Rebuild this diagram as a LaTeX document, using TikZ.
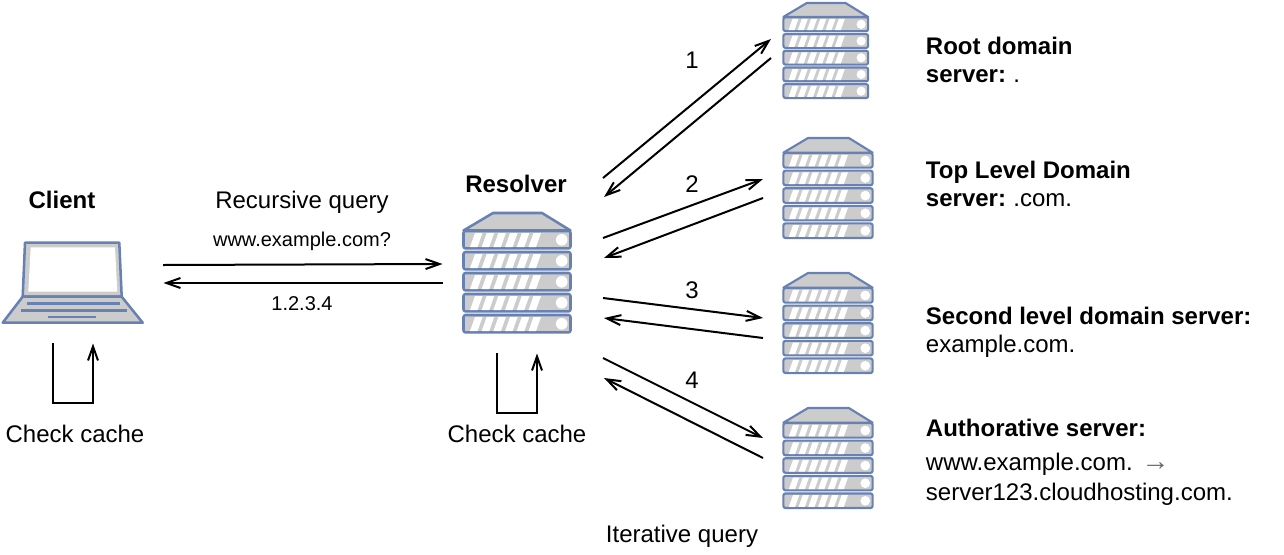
\documentclass[tikz,border=0pt]{standalone}
\usepackage{fontspec}
\setmainfont{Liberation Sans}
\usetikzlibrary{arrows.meta}
\definecolor{iconline}{HTML}{6881B3}
\definecolor{iconfill}{HTML}{CCCCCC}
\tikzset{
  conn/.style={line width=1.5pt,black,-{Straight Barb[length=10.5pt,width=7.5pt,line width=1.5pt]}},
  big/.style={font=\fontsize{18}{18}\selectfont,inner sep=0pt},
  small/.style={font=\fontsize{15}{15}\selectfont,inner sep=0pt},
  lab/.style={big,anchor=base west},
  mid/.style={big,anchor=base},
  midsmall/.style={small,anchor=base},
  iconshape/.style={draw=iconline,fill=iconfill,line width=1.9pt,line join=round},
  slash/.style={fill=white,draw=none},
  hole/.style={fill=white,draw=none},
  keyline/.style={draw=iconline,line width=1.9pt}
}
\newcommand{\serverstack}[5]{% x, y, width, height, stroke width
  \begin{scope}[shift={(#1,#2)},xscale=#3/108,yscale=#4/120]
    \draw[iconshape,line width=#5] (0.5,17.5) -- (30,0) -- (79,0) -- (107.5,17.5) -- cycle;
    \foreach \r in {0,1,2,3,4}{
      \begin{scope}[yshift=-\r*15.75pt]
        \draw[iconshape,line width=#5,rounded corners=1.5pt] (0.5,18) rectangle (107.5,35.4);
        \foreach \s in {0,...,5}{
          \fill[slash] ({12+\s*11.7},20) -- ({19.5+\s*11.7},20) -- ({14.5+\s*11.7},34) -- ({7+\s*11.7},34) -- cycle;
        }
        \fill[hole] (98.7,26.8) circle [radius=5.8];
      \end{scope}
    }
  \end{scope}
}
\begin{document}
\begin{tikzpicture}[x=0.75pt,y=-0.75pt]
\useasboundingbox (0,0) rectangle (1284,554);
\fill[white] (0,0) rectangle (1284,554);

% laptop
\draw[iconshape] (25,242.7) -- (119.3,242.7) -- (121.7,296.7) -- (22.7,296.7) -- cycle;
\fill[white] (30.7,247.3) -- (115,247.3) -- (117.3,291.7) -- (28.3,291.7) -- cycle;
\draw[iconshape] (22.7,296.7) -- (121.7,296.7) -- (142.7,322.7) -- (2.7,322.7) -- cycle;
\draw[keyline] (26.7,303.7) -- (120,303.7);
\draw[keyline] (20.7,310.3) -- (126.7,310.3);
\draw[keyline] (47.7,317) -- (95.7,317);

% servers
\serverstack{463}{213}{108}{120}{1.9pt}
\serverstack{783}{3}{85.5}{95.5}{1.6pt}
\serverstack{783}{138}{90}{100.5}{1.6pt}
\serverstack{783}{273}{90}{100.5}{1.6pt}
\serverstack{783}{408}{90}{100.5}{1.6pt}

% connector end points
\coordinate (cOut) at (163,265);
\coordinate (rIn) at (442.5,264);
\coordinate (rOut) at (443,283);
\coordinate (cIn) at (163.5,283);
\coordinate (cla) at (53,343);
\coordinate (clb) at (53,403);
\coordinate (clc) at (93,403);
\coordinate (cld) at (93,343.5);
\coordinate (rla) at (497,353);
\coordinate (rlb) at (497,413);
\coordinate (rlc) at (537,413);
\coordinate (rld) at (537,353.5);
\coordinate (a1) at (603,178);
\coordinate (b1) at (771,39);
\coordinate (c1) at (771,58);
\coordinate (d1) at (604,197);
\coordinate (a2) at (603,238);
\coordinate (b2) at (763,179);
\coordinate (c2) at (763,198);
\coordinate (d2) at (604,258);
\coordinate (a3) at (603,298);
\coordinate (b3) at (763,318);
\coordinate (c3) at (763,338);
\coordinate (d3) at (604,318);
\coordinate (a4) at (603,358);
\coordinate (b4) at (763,438);
\coordinate (c4) at (763,458);
\coordinate (d4) at (604,378);

\draw[conn] (cOut) -- (rIn);
\draw[conn] (rOut) -- (cIn);
\draw[conn] (cla) -- (clb) -- (clc) -- (cld);
\draw[conn] (rla) -- (rlb) -- (rlc) -- (rld);
\foreach \i in {1,2,3,4}{
  \draw[conn] (a\i) -- (b\i);
  \draw[conn] (c\i) -- (d\i);
}

% labels
\node[mid,font=\fontsize{18}{18}\selectfont\bfseries] (tClient) at (62,208) {Client};
\node[mid,font=\fontsize{18}{18}\selectfont\bfseries] (tResolver) at (516,192) {Resolver};
\node[mid] (tRec) at (302,208) {Recursive query};
\node[midsmall] (tWww) at (302,246) {www.example.com?};
\node[midsmall] (tAns) at (302,310) {1.2.3.4};
\node[mid] (tCc) at (75,442) {Check cache};
\node[mid] (tRc) at (517,442) {Check cache};
\node[mid] (tIter) at (682,542) {Iterative query};
\node[mid] (n1) at (692,68) {1};
\node[mid] (n2) at (692,192) {2};
\node[mid] (n3) at (692,298) {3};
\node[mid] (n4) at (692,388) {4};

\node[lab] (r1) at (925.7,54) {\textbf{Root domain}};
\node[lab] (r2) at (925.7,82) {\textbf{server:}\hspace{-1.2pt} .};
\node[lab] (t1) at (925.7,178) {\textbf{Top Level Domain}};
\node[lab] (t2) at (925.7,206) {\textbf{server:}\hspace{-1.2pt} .com.};
\node[lab] (s1) at (925.7,324) {\textbf{Second level domain server:}};
\node[lab] (s2) at (925.7,352) {example.com.};
\node[lab] (h1) at (925.7,436) {\textbf{Authorative server:}};
\node[lab] (h2) at (925.7,470) {www.example.com. \textcolor[HTML]{666666}{\fontsize{21}{21}\selectfont →}};
\node[lab] (h3) at (925.7,500) {server123.cloudhosting.com.};
\end{tikzpicture}
\end{document}
